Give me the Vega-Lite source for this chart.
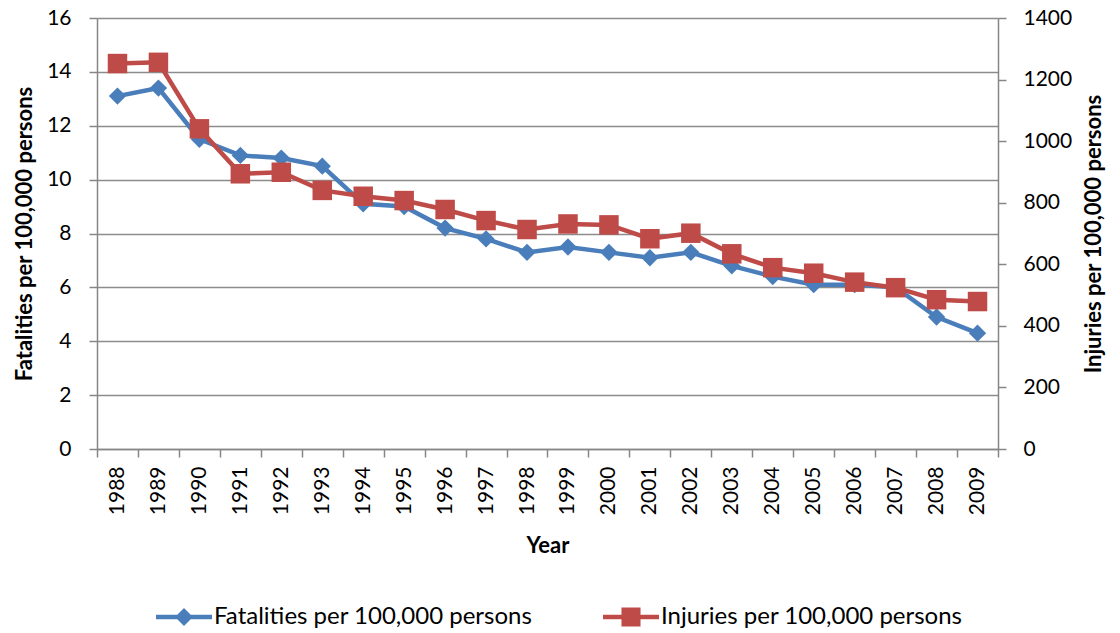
{
  "$schema": "https://vega.github.io/schema/vega-lite/v6.json",
  "width": 901,
  "height": 431,
  "autosize": {"type": "none"},
  "padding": {"left": 97, "top": 18, "right": 122, "bottom": 184},
  "background": "white",
  "config": {
    "font": "Lato",
    "view": {"stroke": null},
    "axis": {
      "domainColor": "#868686", "domainWidth": 1.5,
      "tickColor": "#868686", "tickWidth": 1.5, "tickSize": 8,
      "gridColor": "#8c8c8c", "gridWidth": 1.3,
      "labelColor": "#000000", "titleColor": "#000000",
      "labelFont": "Lato", "titleFont": "Lato",
      "labelFontSize": 21, "titleFontSize": 22, "titleFontWeight": "bold"
    }
  },
  "data": {
    "values": [
      {"year": "1988", "fat": 13.1, "inj": 1252},
      {"year": "1989", "fat": 13.4, "inj": 1256},
      {"year": "1990", "fat": 11.5, "inj": 1040},
      {"year": "1991", "fat": 10.9, "inj": 894},
      {"year": "1992", "fat": 10.8, "inj": 899},
      {"year": "1993", "fat": 10.5, "inj": 840},
      {"year": "1994", "fat": 9.1, "inj": 821},
      {"year": "1995", "fat": 9.0, "inj": 807},
      {"year": "1996", "fat": 8.2, "inj": 778},
      {"year": "1997", "fat": 7.8, "inj": 742},
      {"year": "1998", "fat": 7.3, "inj": 713},
      {"year": "1999", "fat": 7.5, "inj": 731},
      {"year": "2000", "fat": 7.3, "inj": 728},
      {"year": "2001", "fat": 7.1, "inj": 683},
      {"year": "2002", "fat": 7.3, "inj": 701},
      {"year": "2003", "fat": 6.8, "inj": 634},
      {"year": "2004", "fat": 6.4, "inj": 589},
      {"year": "2005", "fat": 6.1, "inj": 571},
      {"year": "2006", "fat": 6.1, "inj": 542},
      {"year": "2007", "fat": 6.0, "inj": 524},
      {"year": "2008", "fat": 4.9, "inj": 485},
      {"year": "2009", "fat": 4.3, "inj": 479}
    ]
  },
  "encoding": {
    "x": {
      "field": "year", "type": "ordinal",
      "scale": {"type": "band", "paddingInner": 0, "paddingOuter": 0},
      "axis": {"title": "Year", "labelAngle": 270, "tickBand": "extent", "labelPadding": 9, "titlePadding": 21, "grid": false}
    }
  },
  "layer": [
    {
      "encoding": {
        "y": {
          "field": "fat", "type": "quantitative",
          "scale": {"domain": [0, 16], "nice": false},
          "axis": {"title": "Fatalities per 100,000 persons", "orient": "left", "values": [0, 2, 4, 6, 8, 10, 12, 14, 16], "grid": true, "labelPadding": 18, "titlePadding": 10}
        }
      },
      "layer": [
        {
          "mark": {"type": "line", "strokeWidth": 4.5},
          "encoding": {
            "color": {
              "datum": "Fatalities per 100,000 persons",
              "type": "nominal",
              "scale": {"domain": ["Fatalities per 100,000 persons", "Injuries per 100,000 persons"], "range": ["#4A7EBB", "#BE4B48"]},
              "legend": {
                "orient": "none", "legendX": 59, "legendY": 571, "direction": "horizontal", "title": null,
                "labelFontSize": 24, "labelFont": "Lato", "labelColor": "#000000", "labelLimit": 600,
                "symbolSize": 3136, "symbolStrokeWidth": 0, "columnPadding": 70, "labelOffset": 2,
                "encode": {
                  "symbols": {
                    "update": {
                      "shape": {"signal": "datum.value === 'Fatalities per 100,000 persons' ? 'M-1,-0.08H1V0.08H-1Z M0,-0.32L0.32,0L0,0.32L-0.32,0Z' : 'M-1,-0.08H1V0.08H-1Z M-0.34,-0.34H0.34V0.34H-0.34Z'"},
                      "fill": {"signal": "datum.value === 'Fatalities per 100,000 persons' ? '#4A7EBB' : '#BE4B48'"},
                      "strokeWidth": {"value": 0},
                      "opacity": {"value": 1}
                    }
                  }
                }
              }
            }
          }
        },
        {
          "mark": {"type": "point", "shape": "diamond", "filled": true, "color": "#4A7EBB", "size": 300, "opacity": 1},
          "encoding": {}
        }
      ]
    },
    {
      "encoding": {
        "y": {
          "field": "inj", "type": "quantitative",
          "scale": {"domain": [0, 1400], "nice": false},
          "axis": {"title": "Injuries per 100,000 persons", "orient": "right", "format": "d", "values": [0, 200, 400, 600, 800, 1000, 1200, 1400], "grid": false, "labelPadding": 17, "titlePadding": 12, "titleAngle": 270, "titleBaseline": "top"}
        }
      },
      "layer": [
        {
          "mark": {"type": "line", "strokeWidth": 4.5},
          "encoding": {
            "color": {"datum": "Injuries per 100,000 persons", "type": "nominal"}
          }
        },
        {
          "mark": {"type": "point", "shape": "square", "filled": true, "color": "#BE4B48", "size": 380, "opacity": 1},
          "encoding": {}
        }
      ]
    }
  ],
  "resolve": {"scale": {"y": "independent"}}
}
